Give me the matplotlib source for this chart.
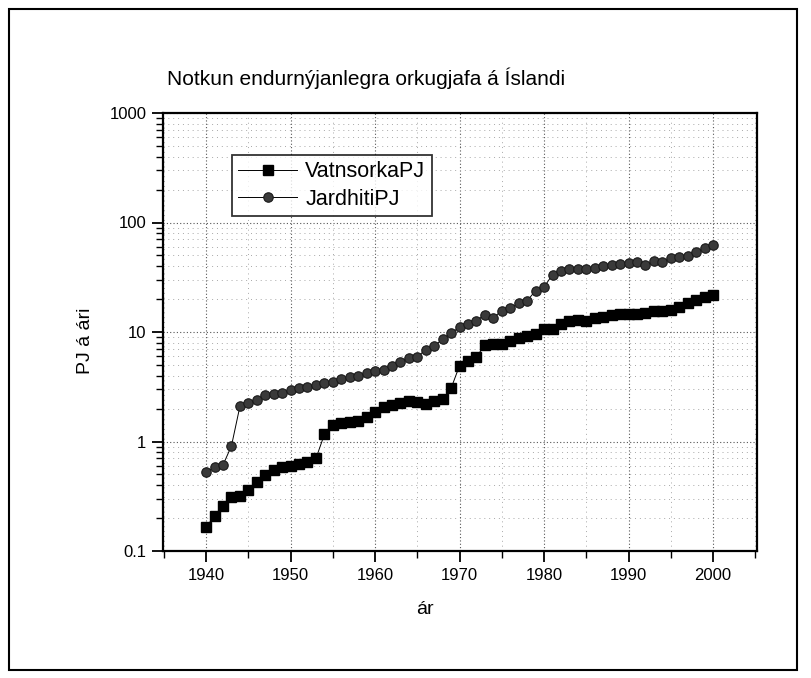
import matplotlib
matplotlib.use("Agg")
import matplotlib.pyplot as plt
from matplotlib.ticker import FixedLocator, FixedFormatter, LogLocator, NullFormatter, MultipleLocator
from matplotlib.patches import Rectangle

years = list(range(1940, 2001))

vatnsorka = [0.165, 0.21, 0.26, 0.31, 0.32, 0.36, 0.43, 0.49, 0.55, 0.58,
             0.60, 0.62, 0.65, 0.70, 1.16, 1.40, 1.47, 1.50, 1.55, 1.67,
             1.85, 2.06, 2.16, 2.24, 2.33, 2.29, 2.21, 2.35, 2.45, 3.07,
             4.94, 5.41, 5.97, 7.57, 7.80, 7.75, 8.36, 8.85, 9.23, 9.63,
             10.6, 10.7, 11.9, 12.7, 12.9, 12.7, 13.4, 13.6, 14.4, 14.7,
             14.5, 14.5, 14.9, 15.4, 15.7, 15.9, 16.9, 18.3, 19.7, 20.8,
             21.9]

jardhiti = [0.53, 0.58, 0.61, 0.91, 2.09, 2.26, 2.40, 2.67, 2.72, 2.80,
            2.96, 3.07, 3.13, 3.25, 3.44, 3.53, 3.70, 3.85, 3.95, 4.20,
            4.36, 4.52, 4.91, 5.37, 5.81, 5.97, 6.87, 7.41, 8.66, 9.75,
            11.1, 11.9, 12.7, 14.4, 13.5, 15.7, 16.5, 18.5, 19.3, 23.9,
            25.7, 33.5, 35.7, 37.3, 37.3, 37.3, 38.6, 39.9, 41.1, 42.0,
            43.1, 43.4, 40.5, 44.7, 44.0, 47.2, 48.2, 49.2, 53.5, 58.7,
            61.7]

x_ticks = [1940, 1950, 1960, 1970, 1980, 1990, 2000]
y_ticks = [0.1, 1, 10, 100, 1000]
y_tick_labels = ["0.1", "1", "10", "100", "1000"]

title = "Notkun endurnýjanlegra orkugjafa á Íslandi"
xlabel = "ár"
ylabel = "PJ á ári"
labels = ["VatnsorkaPJ", "JardhitiPJ"]

plt.rcParams['font.family'] = ['Liberation Sans', 'DejaVu Sans']

W, H = 811, 678
fig = plt.figure(figsize=(W/100, H/100), dpi=100)
ax = fig.add_axes([163/W, 1-551/H, (757-163)/W, (551-113)/H])

ax.set_yscale('log')
ax.set_xlim(1934.9, 2005.2)
ax.set_ylim(0.1, 1000)

# grid
ax.set_axisbelow(True)
ax.grid(which='major', axis='both', color='#555555', linestyle=(0, (1, 2)), linewidth=0.8)
ax.grid(which='minor', axis='both', color='#a8a8a8', linestyle=(0, (1, 4)), linewidth=0.7)

ax.plot(years, vatnsorka, color='black', linewidth=0.7, marker='s', markersize=6.5,
        markerfacecolor='black', markeredgecolor='black', label=labels[0], zorder=3)
ax.plot(years, jardhiti, color='black', linewidth=0.7, marker='o', markersize=6.8,
        markerfacecolor='#3a3a3a', markeredgecolor='#1a1a1a', markeredgewidth=0.8,
        label=labels[1], zorder=3)

ax.xaxis.set_major_locator(FixedLocator(x_ticks))
ax.xaxis.set_minor_locator(MultipleLocator(5))
ax.yaxis.set_major_locator(FixedLocator(y_ticks))
ax.yaxis.set_major_formatter(FixedFormatter(y_tick_labels))
ax.yaxis.set_minor_locator(LogLocator(base=10, subs=range(2, 10)))
ax.yaxis.set_minor_formatter(NullFormatter())

ax.tick_params(which='major', direction='out', length=8, width=1.3, labelsize=12, colors='black', pad=4)
ax.tick_params(which='minor', direction='out', length=5, width=1.0)
ax.tick_params(top=False, right=False)

for s in ax.spines.values():
    s.set_linewidth(1.6)
    s.set_color('black')

ax.set_xlabel(xlabel, fontsize=14)
ax.set_ylabel(ylabel, fontsize=14)
ax.xaxis.set_label_coords((425-163)/594, -(610-551)/438)
ax.yaxis.set_label_coords(-(163-86)/594, (551-341)/438)
ax.xaxis.label.set_va('center')
ax.yaxis.label.set_va('center')

fig.text(167/W, 1-85/H, title, fontsize=15, ha='left', va='baseline')

leg = ax.legend(loc='upper left', bbox_to_anchor=((232-163)/594, (551-155)/438),
                fontsize=15.5, frameon=True, fancybox=False, edgecolor='black',
                handlelength=2.7, borderpad=0.3, labelspacing=0.3, handletextpad=0.4,
                borderaxespad=0)
leg.get_frame().set_linewidth(1.3)

# figure border
fig.patches.append(Rectangle((9/W, 1-670/H), (797-9)/W, (670-9)/H,
                             transform=fig.transFigure, fill=False, edgecolor='black',
                             linewidth=1.5))

fig.savefig('out.png', dpi=100)
